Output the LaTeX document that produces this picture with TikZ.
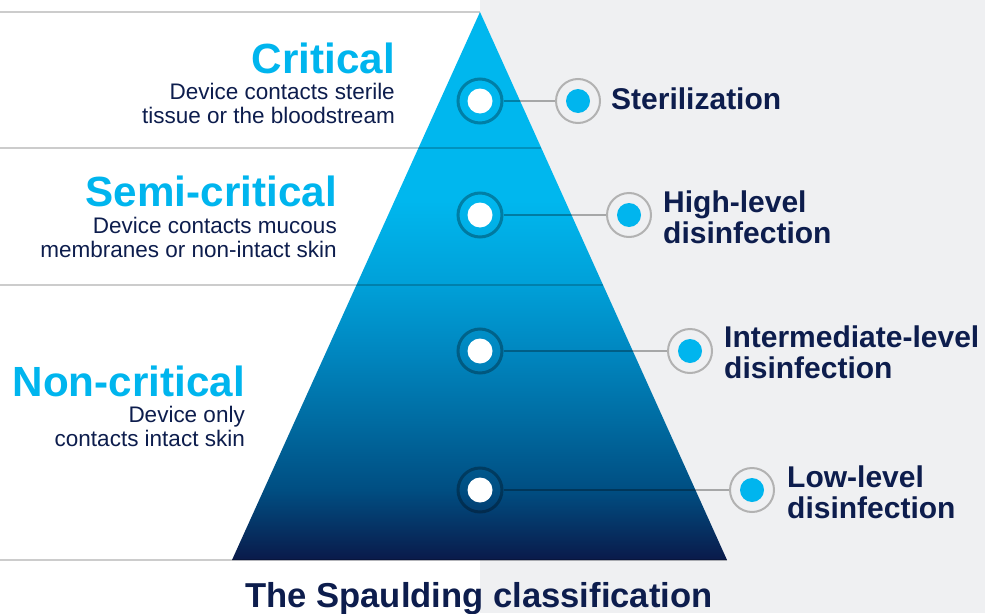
\documentclass[tikz,border=0pt]{standalone}
\usepackage{fontspec}
\setmainfont{Liberation Sans}
\definecolor{bgGray}{HTML}{EFF0F2}
\definecolor{cyanB}{HTML}{00B5EE}
\definecolor{navyT}{HTML}{0D1D4D}
\definecolor{ringGray}{HTML}{B2B2B2}
\definecolor{p0}{HTML}{0A1A4A}
\definecolor{p1}{HTML}{004E82}
\definecolor{p2}{HTML}{006CA2}
\definecolor{p3}{HTML}{0087C0}
\definecolor{p4}{HTML}{00A0D8}
\definecolor{p5}{HTML}{00B7EE}
% vertical gradient of the pyramid: the 25bp..75bp band spans the shape
\pgfdeclareverticalshading{pyramid}{100bp}{color(0bp)=(p0); color(25bp)=(p0);
  color(31.4bp)=(p1); color(37.8bp)=(p2); color(44.1bp)=(p3);
  color(50.1bp)=(p4); color(57.8bp)=(p5); color(75bp)=(p5); color(100bp)=(p5)}
\tikzset{
  divider/.style={draw=black, draw opacity=0.2, line width=2.5pt},
  levelring/.style={circle, draw=black, draw opacity=0.3, line width=3pt,
    minimum size=44pt, inner sep=0pt},
  whitedot/.style={circle, fill=white, minimum size=25pt, inner sep=0pt},
  methodring/.style={circle, draw=ringGray, line width=2pt, fill=bgGray,
    minimum size=44pt, inner sep=0pt},
  cyandot/.style={circle, fill=cyanB, minimum size=24pt, inner sep=0pt},
  conn/.style={draw=black, draw opacity=0.3, line width=2.5pt},
  heading/.style={text=cyanB, font=\bfseries\fontsize{42.2}{44}\selectfont,
    inner sep=0pt, anchor=base east},
  % multi-line labels are placed by the baseline of their last line
  desc/.style={text=navyT, font=\fontsize{22.5}{24}\selectfont,
    align=right, inner sep=0pt, anchor=base east},
  method/.style={text=navyT, font=\bfseries\fontsize{30}{31}\selectfont,
    align=left, inner sep=0pt, anchor=base west},
}
\begin{document}
\begin{tikzpicture}[x=1pt, y=-1pt]
  \useasboundingbox (0,0) rectangle (985,613);
  % two-tone background
  \fill[white] (0,0) rectangle (480,613);
  \fill[bgGray] (480,0) rectangle (985,613);

  % pyramid
  \shade[shading=pyramid] (480,12) -- (727,560) -- (232,560) -- cycle;

  % tier dividers
  \draw[divider] (0,12) -- (480,12);
  \draw[divider] (0,148) -- (541,148);
  \draw[divider] (0,285) -- (603,285);
  \draw[divider] (0,560) -- (727,560);

  % level markers on the pyramid
  \node[levelring] (lr1) at (480,101) {};
  \node[levelring] (lr2) at (480,215) {};
  \node[levelring] (lr3) at (480,351) {};
  \node[levelring] (lr4) at (480,490) {};
  \node[whitedot] (ld1) at (lr1) {};
  \node[whitedot] (ld2) at (lr2) {};
  \node[whitedot] (ld3) at (lr3) {};
  \node[whitedot] (ld4) at (lr4) {};

  % method markers
  \node[methodring] (rr1) at (578,101) {};
  \node[methodring] (rr2) at (629,215) {};
  \node[methodring] (rr3) at (690,351) {};
  \node[methodring] (rr4) at (752,490) {};
  \node[cyandot] (rd1) at (rr1) {};
  \node[cyandot] (rd2) at (rr2) {};
  \node[cyandot] (rd3) at (rr3) {};
  \node[cyandot] (rd4) at (rr4) {};

  % connectors
  \draw[conn] (lr1) -- (rr1);
  \draw[conn] (lr2) -- (rr2);
  \draw[conn] (lr3) -- (rr3);
  \draw[conn] (lr4) -- (rr4);

  % category labels
  \node[heading] (critH) at (395,73) {Critical};
  \node[desc] (critD) at (395,123.5) {Device contacts sterile\\tissue or the bloodstream};
  \node[heading] (semiH) at (337,206) {Semi-critical};
  \node[desc] (semiD) at (337,257) {Device contacts mucous\\membranes or non-intact skin};
  \node[heading] (nonH) at (245,396.5) {Non-critical};
  \node[desc] (nonD) at (245,446) {Device only\\contacts intact skin};

  % method labels
  \node[method] (m1) at (611,109) {Sterilization};
  \node[method] (m2) at (663,243) {High-level\\disinfection};
  \node[method] (m3) at (724,378) {Intermediate-level\\disinfection};
  \node[method] (m4) at (787,518) {Low-level\\disinfection};

  % title
  \node[text=navyT, font=\bfseries\fontsize{34.6}{37}\selectfont, inner sep=0pt,
    anchor=base] (title) at (479,607) {The Spaulding classification};
\end{tikzpicture}
\end{document}
